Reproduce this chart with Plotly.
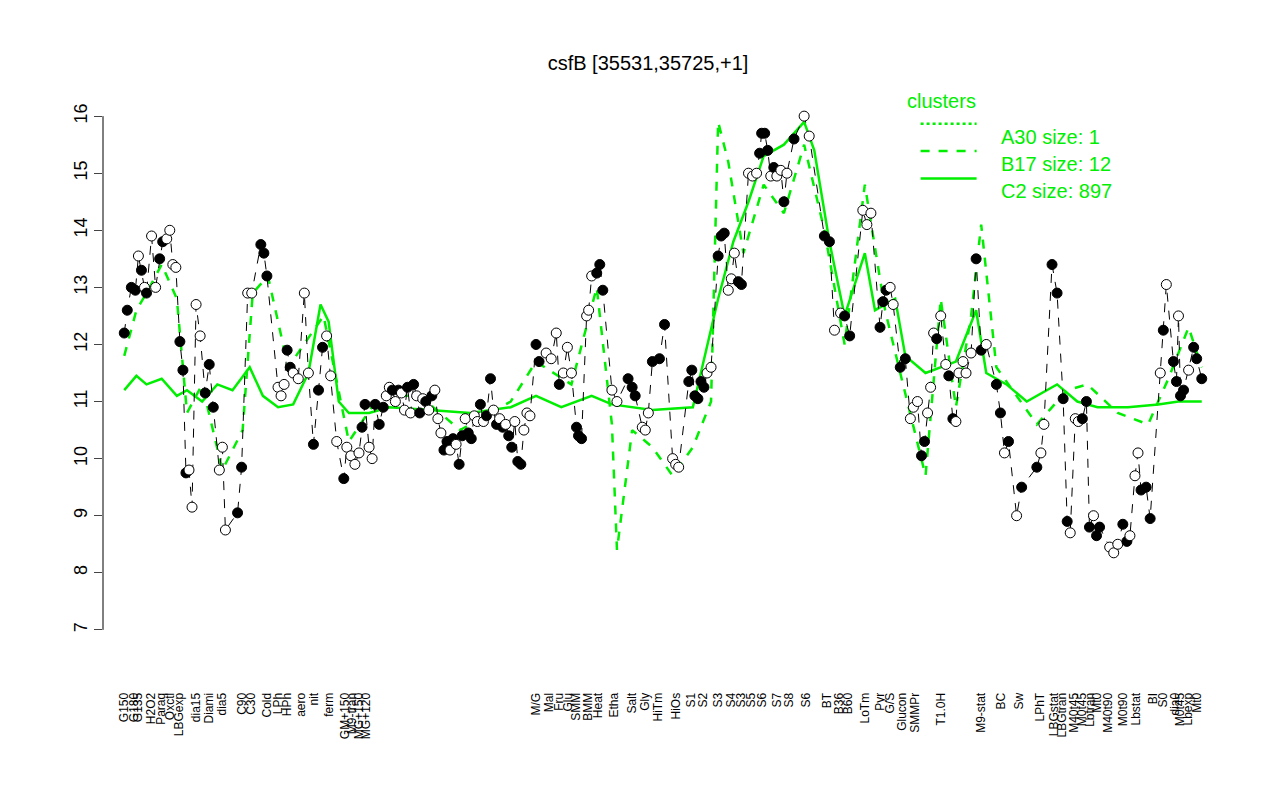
import plotly.graph_objects as go

# positions along the x axis (screen-like ordinal units) and expression values
pos = [138,141,145,149,152,155,158,160,165,169,173,176,180,183,186,189,193,196,199,202,205,209,213,218,222,226,232,235,238,250,254,260,264,273,276,279,290,293,296,299,302,305,310,316,320,325,330,334,338,342,348,355,358,362,366,370,373,376,380,383,386,
       390,394,397,400,403,406,409,412,415,418,421,424,427,430,433,436,439,442,445,448,451,454,457,460,463,466,469,472,475,478,481,484,487,490,493,496,500,503,506,509,512,515,518,521,524,527,530,533,536,539,
       545,548,555,560,565,568,572,576,580,585,587,590,595,597,600,605,608,611,620,625,636,640,643,650,653,656,660,667,672,680,683,686,696,699,702,705,708,711,714,718,725,728,731,735,738,741,745,748,755,759,763,766,768,771,774,777,780,783,787,790,793,800,810,815,830,835,840,846,850,855,868,872,876,885,888,891,895,898,905,910,915,918,922,926,929,932,935,938,941,945,950,953,957,960,963,967,970,975,980,985,990,1000,1004,1008,1012,1020,1025,1040,1044,1047,1055,1060,1066,1070,1073,1078,1081,1085,1089,1092,1096,1099,1102,1112,1116,1120,1125,1129,1132,1137,1140,1143,1148,1152,1162,1165,1168,1175,1178,1180,1182,1185,1190,1195,1198,1203]
expr = [12.2,12.6,13.0,12.95,13.55,13.3,13.0,12.9,13.9,13.0,13.5,13.8,13.85,14.0,13.4,13.35,12.05,11.55,9.75,9.8,9.15,12.7,12.15,11.15,11.65,10.9,9.8,10.2,8.75,9.05,9.85,12.9,12.9,13.75,13.6,13.2,11.25,11.1,11.3,11.9,11.6,11.5,11.4,12.9,11.5,10.25,11.2,11.95,12.15,11.45,10.3,9.65,10.2,10.05,9.9,10.1,10.55,10.95,10.2,10.0,10.95,
        10.6,10.9,11.1,11.25,11.2,11.0,11.2,11.15,10.85,11.25,10.8,11.3,11.1,10.8,11.05,11.0,10.85,11.1,11.2,10.7,10.45,10.15,10.3,10.15,10.35,10.25,9.9,10.4,10.7,10.45,10.35,10.75,10.65,10.95,10.65,10.75,11.4,10.85,10.6,10.7,10.55,10.6,10.4,10.2,10.65,9.95,9.9,10.5,10.8,10.75,
        12.0,11.7,11.85,11.75,12.2,11.3,11.5,11.95,11.5,10.55,10.4,10.35,12.5,12.6,13.2,13.25,13.4,12.95,11.2,11.0,11.4,11.25,11.1,10.55,10.5,10.8,11.7,11.75,12.35,10.0,9.9,9.85,11.35,11.55,11.1,11.05,11.35,11.25,11.5,11.6,13.55,13.9,13.95,12.95,13.15,13.6,13.1,13.05,15.0,14.95,15.0,15.35,15.7,15.7,15.4,14.95,15.1,14.95,15.05,14.5,15.0,15.6,16.0,15.65,13.9,13.8,12.25,12.55,12.5,12.15,14.35,14.1,14.3,12.3,12.75,12.95,13.0,12.7,11.6,11.75,10.7,10.9,11.0,10.05,10.3,10.8,11.25,12.2,12.1,12.5,11.65,11.45,10.7,10.65,11.5,11.7,11.5,11.85,13.5,11.9,12.0,11.3,10.8,10.1,10.3,9.0,9.5,9.85,10.1,10.6,13.4,12.9,11.05,8.9,8.7,10.7,10.65,10.7,11.0,8.8,9.0,8.65,8.8,8.45,8.35,8.5,8.85,8.55,8.65,9.7,10.1,9.45,9.5,8.95,11.5,12.25,13.05,11.7,11.35,12.5,11.1,11.2,11.55,11.95,11.75,11.4]
filled = [1,1,1,1,0,1,0,1,0,0,1,1,0,0,0,0,1,1,1,0,0,0,0,1,1,1,0,0,0,1,1,0,0,1,1,1,0,0,0,1,1,0,0,0,0,1,1,1,0,0,0,1,0,0,0,0,1,1,0,0,1,
          1,1,0,0,1,0,1,0,0,1,0,1,0,1,0,1,0,1,0,0,0,1,1,0,1,0,1,1,0,1,1,0,0,1,0,1,1,0,1,0,1,0,1,1,0,1,1,0,0,0,
          1,1,0,0,0,1,0,0,0,1,1,1,0,0,0,1,1,1,0,0,1,1,1,0,0,0,1,1,1,0,0,0,1,1,1,1,1,1,0,0,1,1,1,0,0,0,1,1,0,0,0,1,1,1,1,0,1,0,0,1,0,1,0,0,1,1,0,0,1,1,0,0,0,1,1,1,0,0,1,1,0,0,0,1,1,0,0,0,1,0,0,1,1,0,0,0,0,0,1,1,0,1,1,0,1,0,1,1,0,0,1,1,1,1,0,0,0,1,1,1,0,1,1,0,0,0,1,1,0,0,0,1,1,1,0,1,0,1,1,0,1,1,0,1,1]

c2_pos = [138,150,160,175,190,200,215,230,245,262,275,290,305,320,332,340,350,360,380,400,440,480,520,545,570,600,620,660,700,725,740,755,770,790,810,820,835,850,870,880,900,910,930,960,980,990,1010,1030,1060,1080,1100,1130,1160,1180,1203]
c2_val = [11.2,11.45,11.3,11.4,11.1,11.2,11.0,11.3,11.2,11.6,11.1,10.9,10.95,11.5,12.7,12.4,11.0,10.8,10.8,10.9,10.85,10.8,10.9,11.1,10.9,11.1,10.95,10.85,10.9,12.8,13.8,14.5,15.3,15.5,15.9,15.4,13.8,12.5,13.6,12.6,12.8,11.8,11.5,11.7,12.6,11.5,11.3,11.0,11.3,11.0,10.9,10.9,10.95,11.0,11.0]
b17_pos = [138,150,160,175,190,200,215,235,255,265,280,300,335,360,390,430,470,520,545,580,605,620,625,640,660,680,700,718,725,735,750,770,790,810,830,850,870,890,905,930,945,960,975,985,1000,1040,1070,1090,1120,1150,1170,1190,1203]
b17_val = [11.8,12.6,12.9,13.4,12.8,10.8,11.3,9.8,10.5,12.9,13.2,11.6,12.5,10.3,11.1,11.1,10.5,11.0,11.7,11.3,13.0,10.6,8.4,10.5,10.2,9.7,10.2,11.0,15.9,15.2,13.6,14.8,14.3,15.5,14.0,12.0,14.8,12.6,11.5,9.7,12.8,10.9,12.5,14.1,11.6,10.6,11.2,11.3,10.8,10.6,11.4,12.3,11.6]

tick_pos = [138,148,152,165,174,183,192,209,222,235,254,263,279,290,299,313,326,340,356,363,370,377,545,558,568,577,585,596,606,622,640,653,666,683,698,710,725,738,748,758,768,783,795,812,833,845,853,870,885,895,907,920,945,985,1005,1022,1043,1057,1065,1077,1085,1093,1100,1110,1125,1138,1155,1165,1177,1182,1190,1198]
tick_txt = ["G150","G180","G135","H2O2","Paraq","Oxctl","LBGexp","dia15","Diami","dia5","C90","C30","Cold","LPh","HPh","aero","nit","ferm","GM+150","M9-tran","MG+150","MG+120","M/G","Mal","Fru","Glu","SMM","BMM","Heat","Etha","Salt","Gly","HiTm","HiOs","S1","S2","S3","S4","S3","S5","S6","S7","S8","S6","BT","B36","B60","LoTm","Pyr","G/S","Glucon","SMMPr","T1.0H","M9-stat","BC","Sw","LPhT","LBGstat","LBGtran","M40t45","M0t45","Lbtran","Mt0","M40t90","M0t90","Lbstat","BI","S0","dia0","M0t45","Lbexp","Mt0"]

fig = go.Figure()
fig.add_trace(go.Scatter(x=b17_pos, y=b17_val, mode="lines", line=dict(color="#00ee00", width=2.5, dash="dash"), showlegend=False))
fig.add_trace(go.Scatter(x=c2_pos, y=c2_val, mode="lines", line=dict(color="#00ee00", width=2.5), showlegend=False))
fig.add_trace(go.Scatter(x=pos, y=expr, mode="lines+markers",
                         line=dict(color="black", width=1, dash="dash"),
                         marker=dict(size=10, color=["black" if f else "white" for f in filled],
                                     line=dict(color="black", width=1)), showlegend=False))

leg = [("A30 size: 1", "dot"), ("B17 size: 12", "dash"), ("C2 size: 897", "solid")]
for i, (t, d) in enumerate(leg):
    yy = 0.955 - i * 0.05
    fig.add_shape(type="line", xref="paper", yref="paper", x0=0.73, x1=0.78, y0=yy, y1=yy,
                  line=dict(color="#00ee00", width=2.5, dash=d))
    fig.add_annotation(xref="paper", yref="paper", x=0.8, y=yy, text=t, showarrow=False,
                       xanchor="left", font=dict(size=20, color="#00ee00"))
fig.add_annotation(xref="paper", yref="paper", x=0.716, y=1.02, text="clusters", showarrow=False,
                   xanchor="left", font=dict(size=20, color="#00ee00"))

fig.update_layout(width=1280, height=800, plot_bgcolor="white", paper_bgcolor="white",
                  margin=dict(l=95, r=65, t=91, b=161),
                  font=dict(family="Liberation Sans", color="black"),
                  title=dict(text="csfB [35531,35725,+1]", x=0.5, y=0.94, font=dict(size=20)))
fig.update_xaxes(range=[117, 1224], tickvals=tick_pos, ticktext=tick_txt, tickangle=-90,
                 tickfont=dict(size=12), showgrid=False, showline=False, ticks="outside",
                 ticklen=40, tickcolor="white")
fig.update_yaxes(range=[6.7, 16.3], tickvals=list(range(7, 17)), tickangle=-90, tickfont=dict(size=18),
                 showgrid=False, showline=False, ticks="outside", ticklen=8, zeroline=False)
fig.add_shape(type="line", xref="paper", yref="y", x0=0, x1=0, y0=7, y1=16, line=dict(color="black", width=1))

fig.write_html("out.html")
